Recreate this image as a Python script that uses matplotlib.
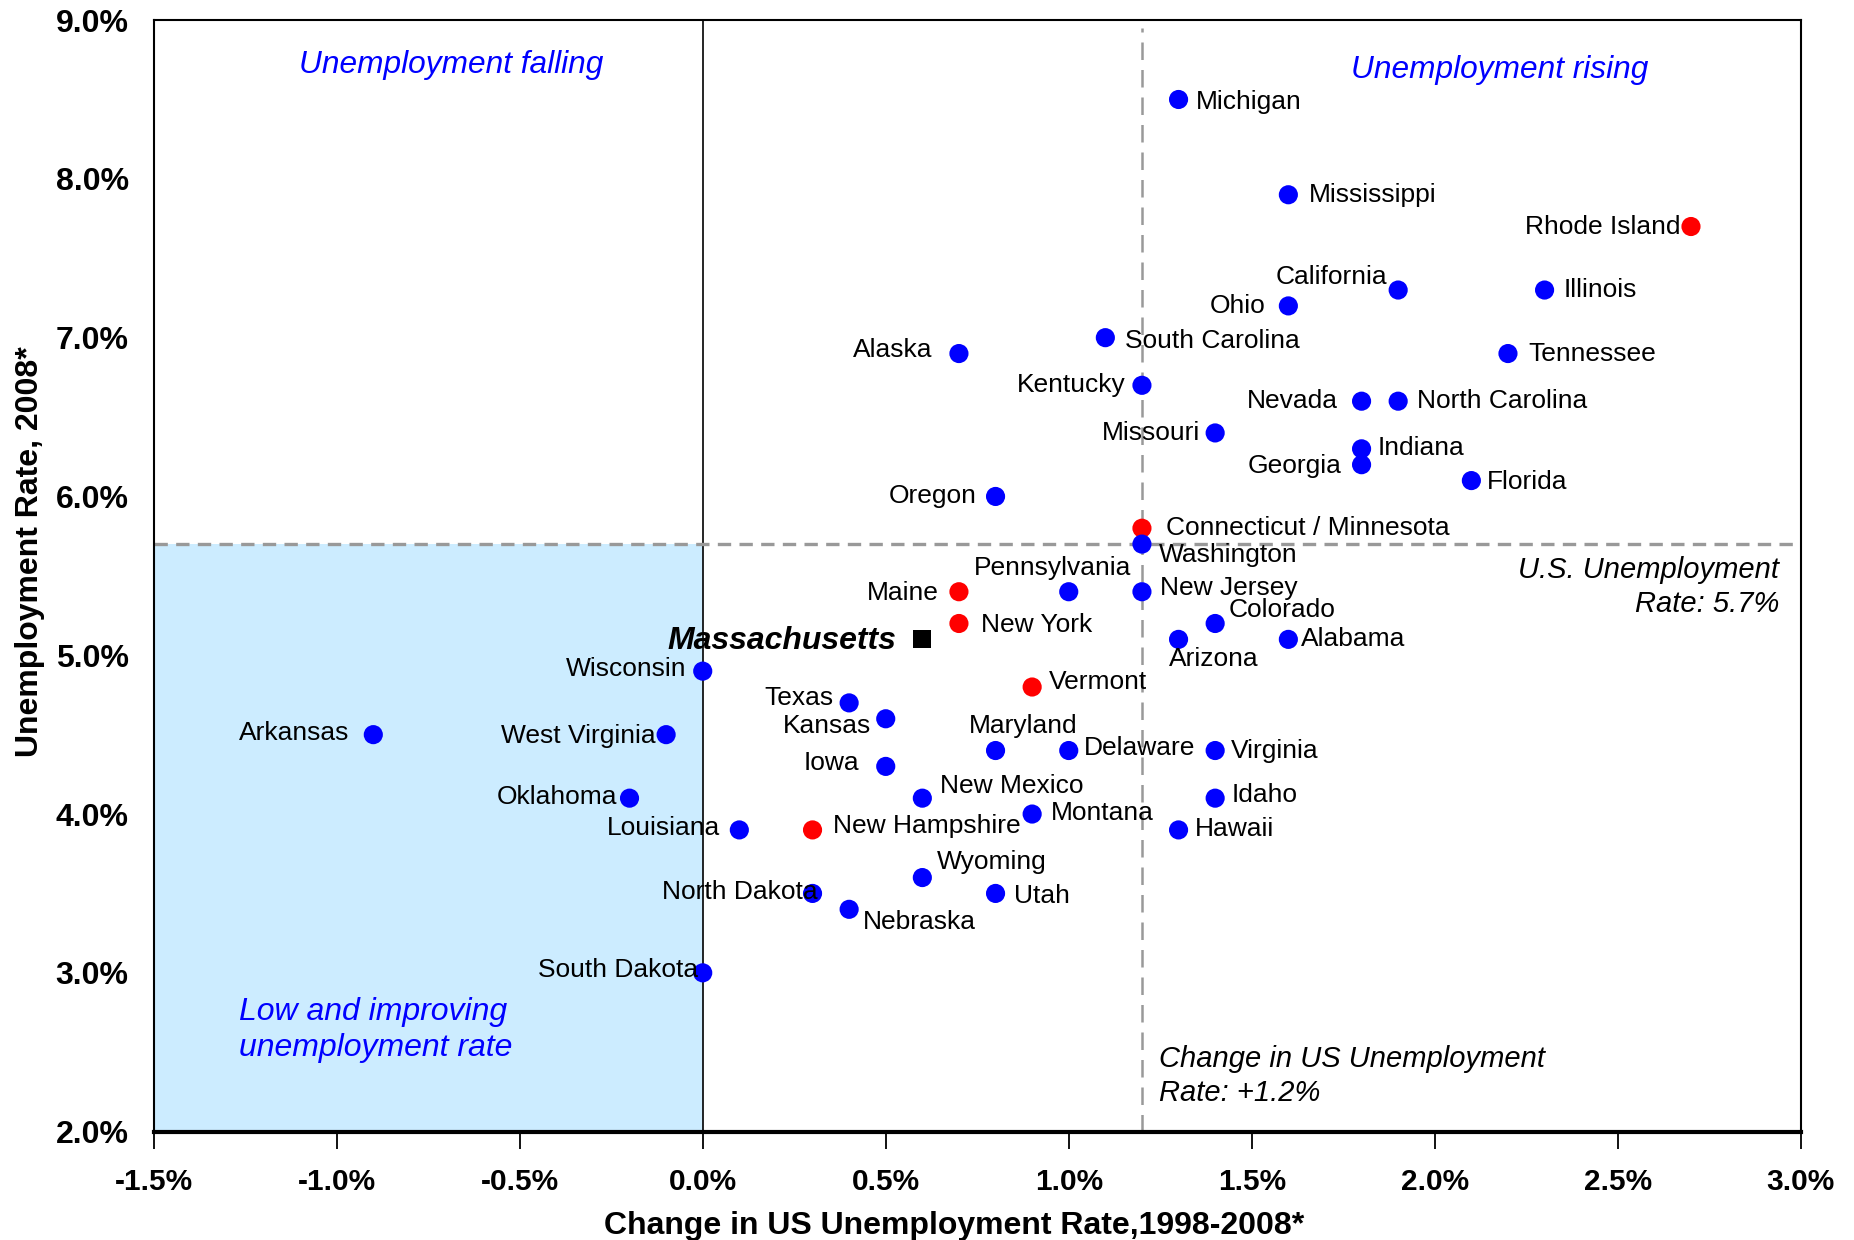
import matplotlib
matplotlib.use("Agg")
import matplotlib.pyplot as plt
from matplotlib.ticker import FuncFormatter

plt.rcParams['font.family'] = ['Liberation Sans', 'DejaVu Sans']

# ---------------- data ----------------
states = ["Michigan", "Mississippi", "Rhode Island", "California", "Illinois", "Ohio",
          "South Carolina", "Alaska", "Tennessee", "Kentucky", "Nevada", "North Carolina",
          "Missouri", "Indiana", "Georgia", "Florida", "Oregon", "Connecticut / Minnesota",
          "Washington", "Maine", "Pennsylvania", "New Jersey", "New York", "Colorado",
          "Arizona", "Alabama", "Wisconsin", "Vermont", "Texas", "Kansas", "Arkansas",
          "West Virginia", "Maryland", "Delaware", "Virginia", "Iowa", "Oklahoma",
          "New Mexico", "Idaho", "Montana", "Louisiana", "New Hampshire", "Hawaii",
          "Wyoming", "North Dakota", "Utah", "Nebraska", "South Dakota"]
change_1998_2008 = [1.3, 1.6, 2.7, 1.9, 2.3, 1.6,
                    1.1, 0.7, 2.2, 1.2, 1.8, 1.9,
                    1.4, 1.8, 1.8, 2.1, 0.8, 1.2,
                    1.2, 0.7, 1.0, 1.2, 0.7, 1.4,
                    1.3, 1.6, 0.0, 0.9, 0.4, 0.5, -0.9,
                    -0.1, 0.8, 1.0, 1.4, 0.5, -0.2,
                    0.6, 1.4, 0.9, 0.1, 0.3, 1.3,
                    0.6, 0.3, 0.8, 0.4, 0.0]
rate_2008 = [8.5, 7.9, 7.7, 7.3, 7.3, 7.2,
             7.0, 6.9, 6.9, 6.7, 6.6, 6.6,
             6.4, 6.3, 6.2, 6.1, 6.0, 5.8,
             5.7, 5.4, 5.4, 5.4, 5.2, 5.2,
             5.1, 5.1, 4.9, 4.8, 4.7, 4.6, 4.5,
             4.5, 4.4, 4.4, 4.4, 4.3, 4.1,
             4.1, 4.1, 4.0, 3.9, 3.9, 3.9,
             3.6, 3.5, 3.5, 3.4, 3.0]
new_england = ["Rhode Island", "Connecticut / Minnesota", "Maine", "New York",
               "Vermont", "New Hampshire"]
ma_name = "Massachusetts"
ma_change = 0.6
ma_rate = 5.1
us_change = 1.2
us_rate = 5.7
x_ticks = [-1.5, -1.0, -0.5, 0.0, 0.5, 1.0, 1.5, 2.0, 2.5, 3.0]
y_ticks = [2.0, 3.0, 4.0, 5.0, 6.0, 7.0, 8.0, 9.0]

# label placement: (dx, dy in reference display px, horizontal alignment)
label_pos = {
    "Michigan": (15, 2, "left"), "Mississippi": (17, 0, "left"),
    "Rhode Island": (-9, 0, "right"), "California": (-9, -11, "right"),
    "Illinois": (16, 0, "left"), "Ohio": (-19, 0, "right"),
    "South Carolina": (17, 3, "left"), "Alaska": (-22, -3, "right"),
    "Tennessee": (17, 0, "left"), "Kentucky": (-14, 0, "right"),
    "Nevada": (-20, 0, "right"), "North Carolina": (16, 0, "left"),
    "Missouri": (-13, 0, "right"), "Indiana": (14, -1, "left"),
    "Georgia": (-17, 1, "right"), "Florida": (13, 1, "left"),
    "Oregon": (-16, 0, "right"), "Connecticut / Minnesota": (20, 0, "left"),
    "Washington": (14, 9, "left"), "Maine": (-17, 1, "right"),
    "Pennsylvania": (-14, -20, "center"), "New Jersey": (15, -3, "left"),
    "New York": (19, 1, "left"), "Colorado": (11, -11, "left"),
    "Arizona": (-8, 17, "left"), "Alabama": (11, 0, "left"),
    "Wisconsin": (-14, -2, "right"), "Vermont": (14, -4, "left"),
    "Texas": (-13, -4, "right"), "Kansas": (-12, 6, "right"),
    "Arkansas": (-20, -1, "right"), "West Virginia": (-9, 1, "right"),
    "Maryland": (23, -21, "center"), "Delaware": (13, -2, "left"),
    "Virginia": (13, 0, "left"), "Iowa": (-22, -3, "right"),
    "Oklahoma": (-10, -1, "right"), "New Mexico": (15, -10, "left"),
    "Idaho": (14, -3, "left"), "Montana": (16, -1, "left"),
    "Louisiana": (-16, -2, "right"), "New Hampshire": (17, -3, "left"),
    "Hawaii": (14, -1, "left"), "Wyoming": (12, -13, "left"),
    "North Dakota": (4, -1, "right"), "Utah": (16, 2, "left"),
    "Nebraska": (12, 11, "left"), "South Dakota": (-4, -2, "right"),
}
SCALE = 1854 / 1568  # reference display px -> output px

# ---------------- figure ----------------
fig = plt.figure(figsize=(18.54, 12.40), dpi=100)
ax = fig.add_axes([0.0829, 0.0874, 0.9713 - 0.0829, 0.9838 - 0.0874])
ax.set_xlim(-1.5, 3.0)
ax.set_ylim(2.0, 9.0)

# shaded "low and improving" region
ax.fill_between([-1.5, 0.0], 2.0, us_rate, color="#CCECFF", zorder=0, linewidth=0)
ax.axvline(0.0, color="black", linewidth=1.2, zorder=1)
ax.plot([-1.5, 3.0], [us_rate, us_rate], color="#999999", linestyle=(0, (4, 2.5)),
        linewidth=2.4, zorder=1)
ax.plot([us_change, us_change], [2.0, 8.95], color="#999999", linestyle=(0, (7, 4)),
        linewidth=1.8, zorder=1)

colors = ["#FF0000" if s in new_england else "#0000FF" for s in states]
ax.scatter(change_1998_2008, rate_2008, s=190, c=colors, zorder=3, linewidths=0)
ax.scatter([ma_change], [ma_rate], s=180, marker="s", c="black", zorder=3, linewidths=0)

for s, xv, yv in zip(states, change_1998_2008, rate_2008):
    dx, dy, ha = label_pos[s]
    ax.annotate(s, (xv, yv), xytext=(dx * SCALE, -dy * SCALE), textcoords="offset pixels",
                ha=ha, va="center", fontsize=19, color="black", zorder=4)
ax.annotate(ma_name, (ma_change, ma_rate), xytext=(-22 * SCALE, -1 * SCALE),
            textcoords="offset pixels", ha="right", va="center", fontsize=23,
            fontweight="bold", fontstyle="italic", color="black", zorder=4)

# region annotations
ax.text(-1.103, 8.715, "Unemployment falling", color="#0000FF", fontsize=22.8,
        fontstyle="italic", ha="left", va="center")
ax.text(1.772, 8.685, "Unemployment rising", color="#0000FF", fontsize=22.8,
        fontstyle="italic", ha="left", va="center")
ax.text(-1.267, 2.64, "Low and improving\nunemployment rate", color="#0000FF",
        fontsize=23, fontstyle="italic", ha="left", va="center", linespacing=1.27)
ax.text(2.941, 5.43, "U.S. Unemployment\nRate: 5.7%", color="black", fontsize=21,
        fontstyle="italic", ha="right", va="center", linespacing=1.3)
ax.text(1.246, 2.35, "Change in US Unemployment\nRate: +1.2%", color="black",
        fontsize=21, fontstyle="italic", ha="left", va="center", linespacing=1.3)

# axes styling
ax.set_xticks(x_ticks)
ax.set_yticks(y_ticks)
ax.xaxis.set_major_formatter(FuncFormatter(lambda v, p: f"{v:.1f}%"))
ax.yaxis.set_major_formatter(FuncFormatter(lambda v, p: f"{v:.1f}%"))
ax.tick_params(axis="x", direction="out", length=12, width=1.3, pad=14, labelsize=21.5)
ax.tick_params(axis="y", length=0, pad=18, labelsize=23)
for lab in ax.get_xticklabels() + ax.get_yticklabels():
    lab.set_fontweight("bold")
for side in ["left", "right", "top"]:
    ax.spines[side].set_linewidth(1.5)
ax.spines["bottom"].set_linewidth(3.0)

ax.set_xlabel("Change in US Unemployment Rate,1998-2008*", fontsize=23,
              fontweight="bold")
ax.set_ylabel("Unemployment Rate, 2008*", fontsize=23, fontweight="bold")
ax.xaxis.set_label_coords(0.4857, -0.071)
ax.yaxis.set_label_coords(-0.066, 0.522)

fig.savefig("out.png", dpi=100)
